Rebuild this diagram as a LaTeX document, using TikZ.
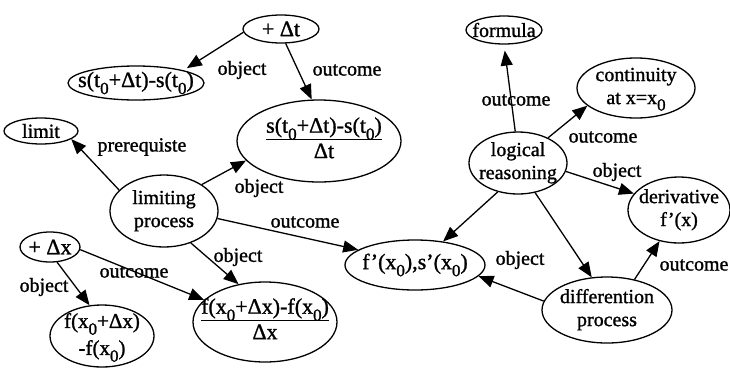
\documentclass[tikz,border=0pt]{standalone}
\usepackage{fontspec}
\setmainfont{Liberation Serif}[FakeBold=1.2]
\usetikzlibrary{shapes.geometric,arrows.meta}
\newcommand\zs{\raisebox{-0.32em}{\fontsize{17}{17}\selectfont 0}}
\newcommand\ctr[1]{\hbox to 0pt{\hss\vbox to 0pt{\vss\hbox{#1}\vss}\hss}}
\newcommand\two[2]{\ctr{\begin{tabular}{@{}c@{}}#1\\#2\end{tabular}}}
\newcommand\frc[2]{\ctr{\setlength\arrayrulewidth{1.2pt}\begin{tabular}{@{}c@{}}#1\\[-1pt]\hline\rule{0pt}{18pt}#2\end{tabular}}}
\tikzset{
  ell/.style 2 args={draw, ellipse, line width=1.3pt, inner sep=0pt, minimum width=#1, minimum height=#2,
     font=\fontsize{20}{23}\selectfont},
  fml/.style={font=\fontsize{22}{22}\selectfont},
  arr/.style={line width=1.3pt, -{Triangle[length=15pt,width=12pt]}},
  lbl/.style={font=\fontsize{20}{23}\selectfont, inner sep=0pt}
}
\begin{document}
\begin{tikzpicture}[x=1pt,y=-1pt]
\useasboundingbox (0,0) rectangle (730,370);
% nodes
\node[ell={76pt}{28pt}, fml] (dt) at (281,29) {\ctr{+ Δt}};
\node[ell={136pt}{34pt}, fml] (st) at (136,83) {\ctr{s(t\zs+Δt)-s(t\zs)}};
\node[ell={74pt}{26pt}] (limit) at (41,131) {\ctr{limit}};
\node[ell={164pt}{82pt}, fml] (fst) at (319,141) {\hspace{10pt}\frc{s(t\zs+Δt)-s(t\zs)}{Δt}};
\node[ell={108pt}{72pt}] (lp) at (164,211) {\two{limiting}{process}};
\node[ell={60pt}{30pt}, fml] (dx) at (50,247) {\ctr{+ Δx}};
\node[ell={104pt}{62pt}, fml] (f2) at (102,336) {\ctr{\fontsize{21}{27}\selectfont\begin{tabular}{@{}c@{}}f(x\zs+Δx)\\-f(x\zs)\end{tabular}}};
\node[ell={144pt}{80pt}, fml] (ffx) at (265,322) {\frc{f(x\zs+Δx)-f(x\zs)}{Δx}};
\node[ell={140pt}{50pt}, fml] (fpx) at (415,265) {\ctr{f'(x\zs),s'(x\zs)}};
\node[ell={76pt}{28pt}] (formula) at (504,30) {\ctr{formula}};
\node[ell={118pt}{60pt}] (cont) at (636,88) {\two{continuity}{at x=x\zs}};
\node[ell={98pt}{62pt}] (lr) at (518,163) {\two{logical}{reasoning}};
\node[ell={102pt}{66pt}] (der) at (679,210) {\two{derivative}{f'(x)}};
\node[ell={130pt}{66pt}] (dp) at (607,310) {\two{differention}{process}};
% connectors
\draw[arr, shorten >=4pt] (dt.185) -- (st.15);
\draw[arr] (dt.-72) -- (fst.100);
\draw[arr] (lp.155) -- (limit.-15);
\draw[arr] (lp.35) -- (fst.195);
\draw[arr] (lp.-8) -- (fpx.165);
\draw[arr] (lp.-50) -- (ffx.125);
\draw[arr] (dx.-5) -- (ffx.160);
\draw[arr] (dx.-65) -- (f2.112);
\draw[arr, shorten >=6pt] (lr.95) -- (formula.-90);
\draw[arr] (lr.40) -- (cont.200);
\draw[arr] (lr.-10) -- (der.160);
\draw[arr] (lr.-125) -- (fpx.40);
\draw[arr] (lr.-60) -- (dp.115);
\draw[arr] (dp.172) -- (fpx.-10);
\draw[arr] (dp.48) -- (der.-122);
% labels
\node[lbl] (l1) at (242,70) {object};
\node[lbl] (l2) at (347,70) {outcome};
\node[lbl] (l3) at (142,147) {prerequiste};
\node[lbl] (l4) at (259,188) {object};
\node[lbl] (l5) at (305,222) {outcome};
\node[lbl] (l6) at (238,257) {object};
\node[lbl] (l7) at (134,272) {outcome};
\node[lbl] (l8) at (44,287) {object};
\node[lbl] (l9) at (516,100) {outcome};
\node[lbl] (l10) at (603,137) {outcome};
\node[lbl] (l11) at (617,172) {object};
\node[lbl] (l12) at (520,260) {object};
\node[lbl] (l13) at (694,265) {outcome};
\end{tikzpicture}
\end{document}
